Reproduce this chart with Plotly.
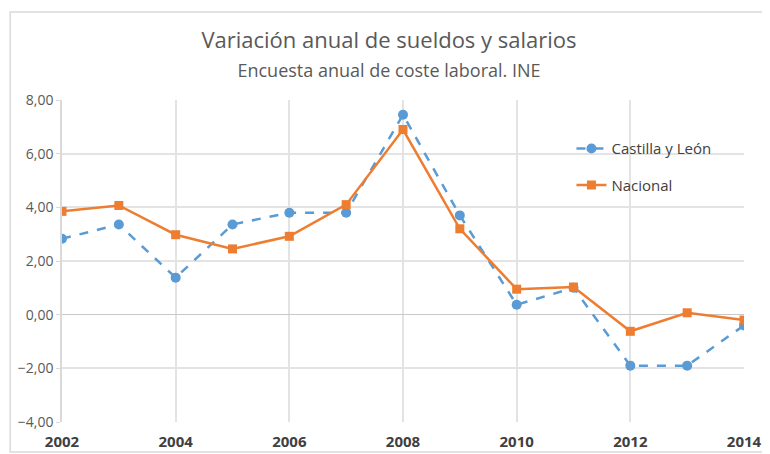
import plotly.graph_objects as go

years = [2002, 2003, 2004, 2005, 2006, 2007, 2008, 2009, 2010, 2011, 2012, 2013, 2014]
castilla_leon = [2.83, 3.36, 1.38, 3.36, 3.80, 3.80, 7.45, 3.70, 0.37, 1.00, -1.90, -1.90, -0.40]
nacional = [3.85, 4.07, 2.98, 2.45, 2.92, 4.10, 6.90, 3.20, 0.95, 1.03, -0.62, 0.07, -0.20]
x_ticks = [2002, 2004, 2006, 2008, 2010, 2012, 2014]
y_ticks = [-4, -2, 0, 2, 4, 6, 8]

blue = "#5B9BD5"
orange = "#ED7D31"
font_family = "Open Sans, Liberation Sans, sans-serif"

fig = go.Figure()
fig.add_trace(go.Scatter(
    x=years, y=castilla_leon, name="Castilla y León", mode="lines+markers",
    line=dict(color=blue, width=2.5, dash="dash"),
    marker=dict(symbol="circle", size=10, color=blue),
    legendgroup="a",
))
fig.add_trace(go.Scatter(
    x=years, y=nacional, name="Nacional", mode="lines+markers",
    line=dict(color=orange, width=2.5),
    marker=dict(symbol="square", size=9, color=orange),
    legendgroup="b",
))

# page body has an 8px margin, so the figure is offset by 8px right and down
fig.update_layout(
    width=762, height=446,
    margin=dict(l=54, r=26, t=92, b=32),
    paper_bgcolor="white", plot_bgcolor="white",
    separators=",.",
    font=dict(family=font_family, color="#595959"),
    title=dict(
        text="Variación anual de sueldos y salarios<br><span style='font-size:18px'>Encuesta anual de coste laboral. INE</span>",
        x=0.5, xanchor="center", y=0.91, yanchor="middle",
        font=dict(size=22, color="#595959", family=font_family),
    ),
    showlegend=True,
    legend=dict(
        x=0.747, y=0.90, xanchor="left", yanchor="top",
        bgcolor="rgba(0,0,0,0)",
        font=dict(size=15, color="#404040", family=font_family),
        tracegroupgap=14, traceorder="grouped",
    ),
    xaxis=dict(
        range=[2002, 2014], tickvals=x_ticks, ticktext=[str(t) for t in x_ticks],
        showgrid=True, gridcolor="#E3E3E3", gridwidth=1.5,
        zeroline=False, showline=False, ticks="",
        ticklabelstandoff=9, automargin=False,
        tickfont=dict(size=15, color="#404040", family="Open Sans, sans-serif", weight="bold"),
    ),
    yaxis=dict(
        range=[-4, 8], tickvals=y_ticks, tickformat=".2f",
        showgrid=True, gridcolor="#E3E3E3", gridwidth=1.5,
        zeroline=True, zerolinecolor="#C8C8C8", zerolinewidth=1,
        showline=True, linecolor="#D9D9D9", linewidth=1.5,
        ticks="outside", ticklen=4, tickcolor="#D9D9D9",
        automargin=False,
        tickfont=dict(size=14, color="#595959"),
    ),
    shapes=[dict(
        type="rect", xref="paper", yref="paper",
        x0=-0.076, x1=1.05, y0=-0.093, y1=1.273,
        line=dict(color="#D9D9D9", width=1.5), fillcolor="rgba(0,0,0,0)", layer="below",
    )],
)

fig.write_html("out.html")
